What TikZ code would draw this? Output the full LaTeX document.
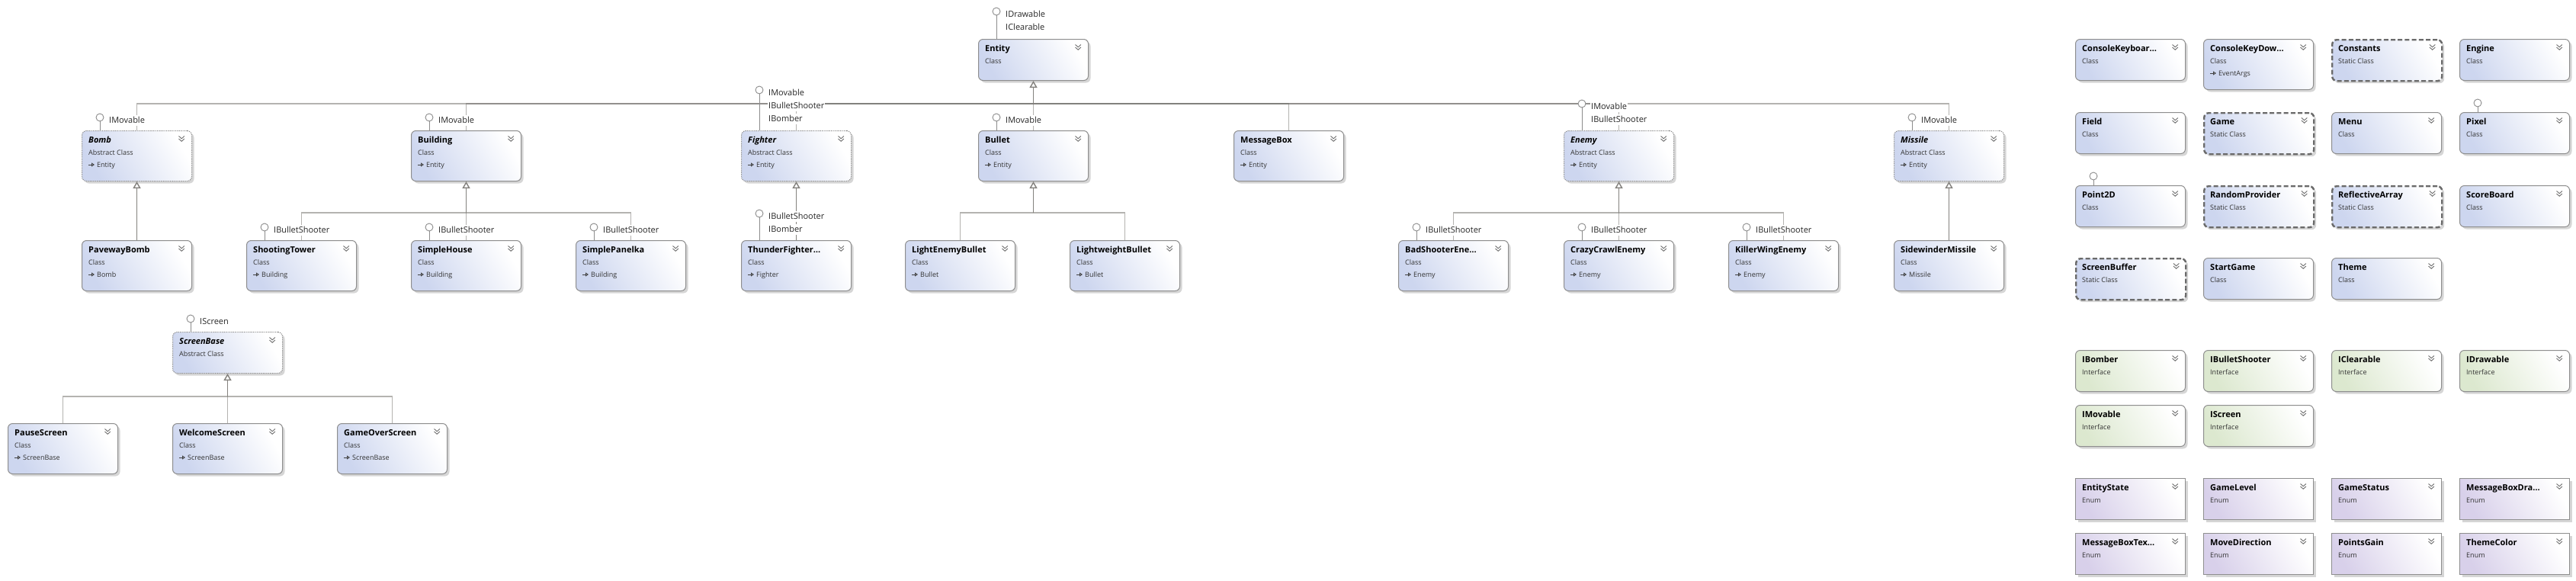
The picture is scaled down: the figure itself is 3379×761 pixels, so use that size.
\documentclass[tikz,border=0pt]{standalone}
\usepackage{fontspec}
\setmainfont{Open Sans}
\usetikzlibrary{calc,shadows,arrows.meta}
\definecolor{clsblue}{HTML}{CDD6EF}
\definecolor{ifgreen}{HTML}{DCE8CF}
\definecolor{enumpur}{HTML}{D8D0EA}
\definecolor{boxline}{HTML}{8E8E8E}
\definecolor{statline}{HTML}{6A6A6A}
\definecolor{absline}{HTML}{8A8A8A}
\definecolor{connc}{HTML}{767470}
\definecolor{lolcol}{HTML}{8C8C8C}
\definecolor{chevcol}{HTML}{6E6E6E}
\pgfdeclarelayer{bg}\pgfsetlayers{bg,main}
\tikzset{
  fillc/.style={bottom color=#1, top color=white, shading angle=-60},
  box/.style={draw=boxline, line width=1pt, rounded corners=6pt, minimum width=144pt,
    inner sep=0pt, fillc=clsblue,
    drop shadow={shadow xshift=3pt, shadow yshift=-3pt, fill=black!16, opacity=1}},
  clsbox/.style={box},
  absbox/.style={box, draw=absline, dash pattern=on 1.2pt off 1.2pt},
  statbox/.style={box, draw=statline, line width=2.4pt, dash pattern=on 6pt off 3.2pt},
  ifbox/.style={box, fillc=ifgreen},
  enumbox/.style={box, sharp corners, fillc=enumpur},
  tname/.style={anchor=base west, inner sep=0pt, font=\fontsize{11}{13}\selectfont\bfseries},
  tsub/.style={anchor=base west, inner sep=0pt, font=\fontsize{9}{11}\selectfont, text=black!80},
  chevl/.style={draw=chevcol, line width=0.9pt},
  gline/.style={draw=black!75, line width=0.9pt, -{Triangle[open,length=4pt,width=5pt]}},
  conn/.style={draw=connc, line width=1.4pt, draw opacity=0.55},
  stick/.style={draw=connc!90, line width=1.4pt, -{Triangle[width=10pt,length=9pt,fill=white]}},
  lolline/.style={draw=lolcol, line width=1pt},
  lolcirc/.style={circle, draw=lolcol, fill=white, line width=0.9pt, minimum size=10pt, inner sep=0pt},
  lbl/.style={anchor=base west, fill=white, inner sep=1pt, text height=9pt, text depth=2.5pt,
    font=\fontsize{11}{13}\selectfont, text=black!85},
}
\newcommand\ubox[7]{%
  \node[#2, minimum height=#5, anchor=north west] (#1) at (#3,#4) {};
  \node[tname] (#1-t) at ($(#1.north west)+(9,16)$) {#6};
  \node[tsub] (#1-s) at ($(#1.north west)+(9,32)$) {#7};
  \draw[chevl] ($(#1.north east)+(-17.5,7.5)$) -- ++(3.7,3.3) -- ++(3.7,-3.3)
               ($(#1.north east)+(-17.5,11)$) -- ++(3.7,3.3) -- ++(3.7,-3.3);
}
\newcommand\ubase[2]{%
  \draw[gline] ($(#1.north west)+(9,45)$) -- ++(8,0);
  \node[tsub] (#1-b) at ($(#1.north west)+(20,48)$) {#2};
}
\newcommand\lol[3]{%
  \draw[lolline] ($(#1.north west)+(24,0)$) -- ++(0,-#2);
  \node[lolcirc] (#3) at ($(#1.north west)+(24,-#2)$) {};
}
\newcommand\lbl[4]{\node[lbl] (#1) at ($(#2)+(11,#3)$) {#4};}
\begin{document}
\begin{tikzpicture}[x=1pt,y=-1pt]
\useasboundingbox (0,0) rectangle (3379,761);
% ---------- hierarchy ----------
\ubox{entity}{clsbox}{1283}{51}{54}{Entity}{Class}
\ubox{bomb}{absbox}{107}{171}{66}{\itshape Bomb}{Abstract Class}\ubase{bomb}{Entity}
\ubox{building}{clsbox}{539}{171}{66}{Building}{Class}\ubase{building}{Entity}
\ubox{fighter}{absbox}{972}{171}{66}{\itshape Fighter}{Abstract Class}\ubase{fighter}{Entity}
\ubox{bullet}{clsbox}{1283}{171}{66}{Bullet}{Class}\ubase{bullet}{Entity}
\ubox{messagebox}{clsbox}{1618}{171}{66}{MessageBox}{Class}\ubase{messagebox}{Entity}
\ubox{enemy}{absbox}{2051}{171}{66}{\itshape Enemy}{Abstract Class}\ubase{enemy}{Entity}
\ubox{missile}{absbox}{2484}{171}{66}{\itshape Missile}{Abstract Class}\ubase{missile}{Entity}
\ubox{paveway}{clsbox}{107}{315}{66}{PavewayBomb}{Class}\ubase{paveway}{Bomb}
\ubox{shootingtower}{clsbox}{323}{315}{66}{ShootingTower}{Class}\ubase{shootingtower}{Building}
\ubox{simplehouse}{clsbox}{539}{315}{66}{SimpleHouse}{Class}\ubase{simplehouse}{Building}
\ubox{simplepanelka}{clsbox}{755}{315}{66}{SimplePanelka}{Class}\ubase{simplepanelka}{Building}
\ubox{thunder}{clsbox}{972}{315}{66}{ThunderFighter…}{Class}\ubase{thunder}{Fighter}
\ubox{lightenemy}{clsbox}{1187}{315}{66}{LightEnemyBullet}{Class}\ubase{lightenemy}{Bullet}
\ubox{lightweight}{clsbox}{1403}{315}{66}{LightweightBullet}{Class}\ubase{lightweight}{Bullet}
\ubox{badshooter}{clsbox}{1834}{315}{66}{BadShooterEne…}{Class}\ubase{badshooter}{Enemy}
\ubox{crazycrawl}{clsbox}{2051}{315}{66}{CrazyCrawlEnemy}{Class}\ubase{crazycrawl}{Enemy}
\ubox{killerwing}{clsbox}{2267}{315}{66}{KillerWingEnemy}{Class}\ubase{killerwing}{Enemy}
\ubox{sidewinder}{clsbox}{2484}{315}{66}{SidewinderMissile}{Class}\ubase{sidewinder}{Missile}
\ubox{screenbase}{absbox}{226}{435}{54}{\itshape ScreenBase}{Abstract Class}
\ubox{pausescreen}{clsbox}{10}{555}{66}{PauseScreen}{Class}\ubase{pausescreen}{ScreenBase}
\ubox{welcomescreen}{clsbox}{226}{555}{66}{WelcomeScreen}{Class}\ubase{welcomescreen}{ScreenBase}
\ubox{gameoverscreen}{clsbox}{442}{555}{66}{GameOverScreen}{Class}\ubase{gameoverscreen}{ScreenBase}
% ---------- right grid ----------
\ubox{ckeyboard}{clsbox}{2722}{51}{54}{ConsoleKeyboar…}{Class}
\ubox{ckeydown}{clsbox}{2890}{51}{66}{ConsoleKeyDow…}{Class}\ubase{ckeydown}{EventArgs}
\ubox{constants}{statbox}{3058}{51}{54}{Constants}{Static Class}
\ubox{engine}{clsbox}{3226}{51}{54}{Engine}{Class}
\ubox{field}{clsbox}{2722}{147}{54}{Field}{Class}
\ubox{game}{statbox}{2890}{147}{54}{Game}{Static Class}
\ubox{menu}{clsbox}{3058}{147}{54}{Menu}{Class}
\ubox{pixel}{clsbox}{3226}{147}{54}{Pixel}{Class}
\ubox{point2d}{clsbox}{2722}{243}{54}{Point2D}{Class}
\ubox{randomprovider}{statbox}{2890}{243}{54}{RandomProvider}{Static Class}
\ubox{reflectivearray}{statbox}{3058}{243}{54}{ReflectiveArray}{Static Class}
\ubox{scoreboard}{clsbox}{3226}{243}{54}{ScoreBoard}{Class}
\ubox{screenbuffer}{statbox}{2722}{338}{54}{ScreenBuffer}{Static Class}
\ubox{startgame}{clsbox}{2890}{338}{54}{StartGame}{Class}
\ubox{theme}{clsbox}{3058}{338}{54}{Theme}{Class}
\ubox{ibomber}{ifbox}{2722}{459}{54}{IBomber}{Interface}
\ubox{ibulletshooter}{ifbox}{2890}{459}{54}{IBulletShooter}{Interface}
\ubox{iclearable}{ifbox}{3058}{459}{54}{IClearable}{Interface}
\ubox{idrawable}{ifbox}{3226}{459}{54}{IDrawable}{Interface}
\ubox{imovable}{ifbox}{2722}{531}{54}{IMovable}{Interface}
\ubox{iscreen}{ifbox}{2890}{531}{54}{IScreen}{Interface}
\ubox{entitystate}{enumbox}{2722}{627}{54}{EntityState}{Enum}
\ubox{gamelevel}{enumbox}{2890}{627}{54}{GameLevel}{Enum}
\ubox{gamestatus}{enumbox}{3058}{627}{54}{GameStatus}{Enum}
\ubox{msgboxdraw}{enumbox}{3226}{627}{54}{MessageBoxDra…}{Enum}
\ubox{msgboxtext}{enumbox}{2722}{699}{54}{MessageBoxTex…}{Enum}
\ubox{movedirection}{enumbox}{2890}{699}{54}{MoveDirection}{Enum}
\ubox{pointsgain}{enumbox}{3058}{699}{54}{PointsGain}{Enum}
\ubox{themecolor}{enumbox}{3226}{699}{54}{ThemeColor}{Enum}
% ---------- connectors ----------
\coordinate (ebus) at ($(entity.south)+(0,30)$);
\coordinate (bdbus) at ($(building.south)+(0,41)$);
\coordinate (blbus) at ($(bullet.south)+(0,41)$);
\coordinate (enbus) at ($(enemy.south)+(0,41)$);
\coordinate (sbbus) at ($(screenbase.south)+(0,30)$);
\begin{pgfonlayer}{bg}
\foreach \c in {bomb,building,fighter,bullet,messagebox,enemy,missile}
  \draw[conn] (\c.north) |- (ebus);
\foreach \c in {shootingtower,simplehouse,simplepanelka}
  \draw[conn] (\c.north) |- (bdbus);
\foreach \c in {lightenemy,lightweight}
  \draw[conn] (\c.north) |- (blbus);
\foreach \c in {badshooter,crazycrawl,killerwing}
  \draw[conn] (\c.north) |- (enbus);
\foreach \c in {pausescreen,welcomescreen,gameoverscreen}
  \draw[conn] (\c.north) |- (sbbus);
\end{pgfonlayer}
\draw[stick] (ebus) -- (entity.south);
\draw[stick] (bdbus) -- (building.south);
\draw[stick] (blbus) -- (bullet.south);
\draw[stick] (enbus) -- (enemy.south);
\draw[stick] (sbbus) -- (screenbase.south);
\draw[stick] (paveway.north) -- (bomb.south);
\draw[stick] (thunder.north) -- (fighter.south);
\draw[stick] (sidewinder.north) -- (missile.south);
% ---------- lollipops ----------
\lol{entity}{36}{entity-l}\lbl{entity-l1}{entity-l}{7}{IDrawable}\lbl{entity-l2}{entity-l}{24}{IClearable}
\lol{bomb}{17}{bomb-l}\lbl{bomb-l1}{bomb-l}{7}{IMovable}
\lol{building}{17}{building-l}\lbl{building-l1}{building-l}{7}{IMovable}
\lol{fighter}{53}{fighter-l}\lbl{fighter-l1}{fighter-l}{7}{IMovable}\lbl{fighter-l2}{fighter-l}{24}{IBulletShooter}\lbl{fighter-l3}{fighter-l}{41}{IBomber}
\lol{bullet}{17}{bullet-l}\lbl{bullet-l1}{bullet-l}{7}{IMovable}
\lol{enemy}{35}{enemy-l}\lbl{enemy-l1}{enemy-l}{7}{IMovable}\lbl{enemy-l2}{enemy-l}{24}{IBulletShooter}
\lol{missile}{17}{missile-l}\lbl{missile-l1}{missile-l}{7}{IMovable}
\lol{shootingtower}{17}{shootingtower-l}\lbl{shootingtower-l1}{shootingtower-l}{7}{IBulletShooter}
\lol{simplehouse}{17}{simplehouse-l}\lbl{simplehouse-l1}{simplehouse-l}{7}{IBulletShooter}
\lol{simplepanelka}{17}{simplepanelka-l}\lbl{simplepanelka-l1}{simplepanelka-l}{7}{IBulletShooter}
\lol{thunder}{35}{thunder-l}\lbl{thunder-l1}{thunder-l}{7}{IBulletShooter}\lbl{thunder-l2}{thunder-l}{24}{IBomber}
\lol{badshooter}{17}{badshooter-l}\lbl{badshooter-l1}{badshooter-l}{7}{IBulletShooter}
\lol{crazycrawl}{17}{crazycrawl-l}\lbl{crazycrawl-l1}{crazycrawl-l}{7}{IBulletShooter}
\lol{killerwing}{17}{killerwing-l}\lbl{killerwing-l1}{killerwing-l}{7}{IBulletShooter}
\lol{screenbase}{17}{screenbase-l}\lbl{screenbase-l1}{screenbase-l}{7}{IScreen}
\lol{pixel}{12}{pixel-l}
\lol{point2d}{12}{point2d-l}
\end{tikzpicture}
\end{document}
